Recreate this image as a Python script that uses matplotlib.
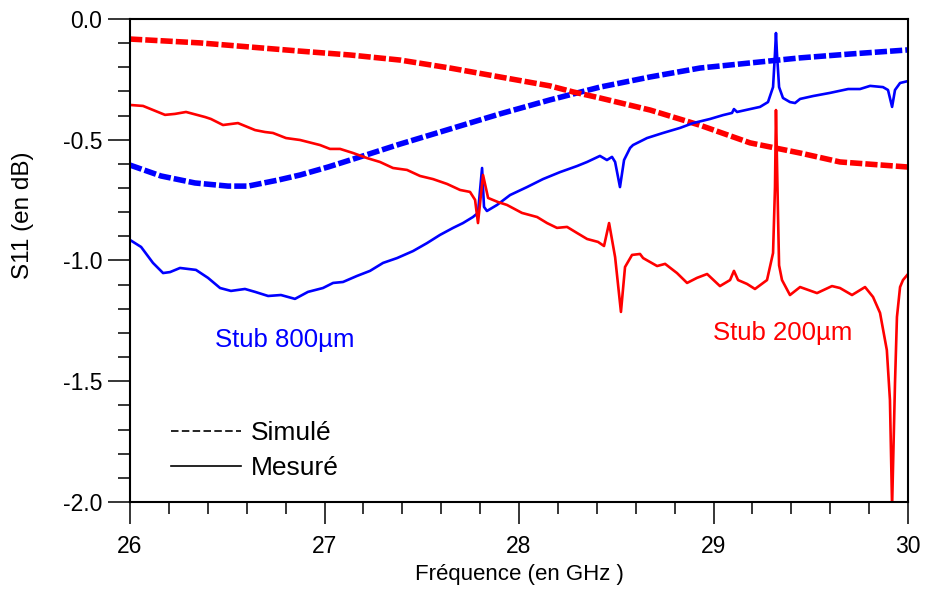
import matplotlib
matplotlib.use("Agg")
import matplotlib.pyplot as plt
from matplotlib.ticker import MultipleLocator, FuncFormatter
from matplotlib.lines import Line2D

plt.rcParams['font.family'] = ['Liberation Sans', 'DejaVu Sans']
plt.rcParams['axes.unicode_minus'] = False

# Stub 800um - simulated (dashed blue)
f_sim800 = [26.000, 26.159, 26.334, 26.504, 26.607, 26.761, 26.874, 27.018, 27.183,
            27.388, 27.594, 27.799, 27.902, 28.159, 28.416, 28.674, 28.931, 29.188,
            29.445, 29.702, 30.000]
s_sim800 = [-0.605, -0.650, -0.679, -0.692, -0.692, -0.667, -0.646, -0.613, -0.571,
            -0.518, -0.468, -0.418, -0.393, -0.335, -0.282, -0.240, -0.203, -0.182,
            -0.161, -0.145, -0.128]

# Stub 200um - simulated (dashed red)
f_sim200 = [26.000, 26.360, 26.617, 26.874, 27.131, 27.388, 27.645, 27.902, 28.159,
            28.278, 28.416, 28.674, 28.931, 29.188, 29.445, 29.650, 30.000]
s_sim200 = [-0.083, -0.099, -0.116, -0.133, -0.149, -0.170, -0.203, -0.240, -0.277,
            -0.302, -0.327, -0.377, -0.440, -0.513, -0.555, -0.592, -0.613]

# Stub 800um - measured (solid blue)
f_mes800 = [26.000, 26.057, 26.118, 26.170, 26.206, 26.257, 26.339, 26.401, 26.463,
            26.519, 26.591, 26.643, 26.710, 26.776, 26.848, 26.915, 26.992, 27.044,
            27.095, 27.167, 27.234, 27.301, 27.373, 27.455, 27.527, 27.594, 27.661,
            27.712, 27.763, 27.789, 27.810, 27.820, 27.835, 27.887, 27.954, 28.041,
            28.123, 28.211, 28.298, 28.350, 28.416, 28.452, 28.478, 28.494, 28.519,
            28.540, 28.571, 28.586, 28.658, 28.740, 28.828, 28.895, 28.982, 29.049,
            29.095, 29.105, 29.121, 29.188, 29.239, 29.280, 29.306, 29.316, 29.321,
            29.326, 29.337, 29.357, 29.393, 29.419, 29.445, 29.512, 29.599, 29.692,
            29.753, 29.805, 29.871, 29.897, 29.918, 29.933, 29.959, 30.000]
s_mes800 = [-0.915, -0.944, -1.010, -1.052, -1.048, -1.031, -1.039, -1.072, -1.114,
            -1.126, -1.118, -1.130, -1.147, -1.143, -1.159, -1.130, -1.114, -1.093,
            -1.089, -1.064, -1.043, -1.010, -0.990, -0.961, -0.928, -0.894, -0.865,
            -0.845, -0.820, -0.803, -0.617, -0.778, -0.795, -0.770, -0.729, -0.696,
            -0.663, -0.634, -0.609, -0.592, -0.567, -0.584, -0.571, -0.592, -0.696,
            -0.584, -0.534, -0.522, -0.493, -0.472, -0.451, -0.431, -0.414, -0.398,
            -0.389, -0.373, -0.385, -0.373, -0.364, -0.344, -0.282, -0.141, -0.058,
            -0.141, -0.282, -0.327, -0.344, -0.348, -0.331, -0.319, -0.306, -0.290,
            -0.290, -0.277, -0.282, -0.294, -0.364, -0.294, -0.265, -0.257]

# Stub 200um - measured (solid red)
f_mes200 = [26.000, 26.067, 26.180, 26.231, 26.288, 26.386, 26.416, 26.478, 26.555,
            26.643, 26.694, 26.735, 26.802, 26.874, 26.977, 27.028, 27.080, 27.147,
            27.219, 27.285, 27.352, 27.424, 27.491, 27.558, 27.630, 27.697, 27.748,
            27.774, 27.789, 27.815, 27.841, 27.892, 27.938, 28.015, 28.093, 28.144,
            28.195, 28.247, 28.298, 28.350, 28.406, 28.437, 28.463, 28.494, 28.524,
            28.545, 28.581, 28.622, 28.638, 28.710, 28.751, 28.812, 28.864, 28.915,
            28.967, 29.033, 29.085, 29.105, 29.126, 29.172, 29.213, 29.275, 29.306,
            29.316, 29.321, 29.332, 29.337, 29.352, 29.393, 29.445, 29.532, 29.609,
            29.650, 29.712, 29.779, 29.820, 29.856, 29.891, 29.907, 29.918, 29.933,
            29.943, 29.959, 29.974, 30.000]
s_mes200 = [-0.356, -0.360, -0.397, -0.393, -0.385, -0.406, -0.414, -0.439, -0.431,
            -0.460, -0.468, -0.472, -0.493, -0.501, -0.522, -0.538, -0.538, -0.555,
            -0.576, -0.592, -0.617, -0.625, -0.650, -0.663, -0.683, -0.708, -0.716,
            -0.749, -0.845, -0.646, -0.741, -0.758, -0.770, -0.803, -0.820, -0.845,
            -0.865, -0.861, -0.886, -0.911, -0.923, -0.940, -0.845, -0.986, -1.213,
            -1.027, -0.977, -0.973, -0.990, -1.023, -1.014, -1.052, -1.093, -1.072,
            -1.056, -1.106, -1.081, -1.043, -1.081, -1.097, -1.118, -1.081, -0.969,
            -0.696, -0.377, -0.830, -1.020, -1.081, -1.143, -1.110, -1.135, -1.106,
            -1.114, -1.143, -1.110, -1.151, -1.217, -1.371, -1.578, -2.020, -1.507,
            -1.234, -1.110, -1.081, -1.056]

labels = ["Simulé", "Mesuré"]

fig = plt.figure(figsize=(9.26, 5.9), dpi=100)
ax = fig.add_axes([0.1404, 0.1492, 0.8402, 0.8186])

dash = (0, (2.2, 0.55))
ax.plot(f_sim800, s_sim800, color='#0000FF', lw=4.0, linestyle=dash)
ax.plot(f_sim200, s_sim200, color='#FF0000', lw=4.0, linestyle=dash)
ax.plot(f_mes800, s_mes800, color='#0000FF', lw=1.9)
ax.plot(f_mes200, s_mes200, color='#FF0000', lw=1.9)

ax.set_xlim(26, 30)
ax.set_ylim(-2.0, 0.0)

ax.xaxis.set_major_locator(MultipleLocator(1))
ax.xaxis.set_minor_locator(MultipleLocator(0.2))
ax.yaxis.set_major_locator(MultipleLocator(0.5))
ax.yaxis.set_minor_locator(MultipleLocator(0.1))
ax.yaxis.set_major_formatter(FuncFormatter(lambda v, p: "%.1f" % (0.0 if abs(v) < 1e-9 else v)))
ax.xaxis.set_major_formatter(FuncFormatter(lambda v, p: "%d" % round(v)))

ax.tick_params(which='major', direction='out', length=16, width=1.1, labelsize=16.5, pad=4)
ax.tick_params(which='minor', direction='out', length=8.5, width=1.1)
ax.tick_params(axis='x', which='major', pad=8)
for sp in ax.spines.values():
    sp.set_linewidth(1.5)

ax.set_xlabel("Fréquence (en GHz )", fontsize=16)
ax.set_ylabel("S11 (en dB)", fontsize=17.5)
ax.xaxis.set_label_coords(0.501, -0.128)
ax.yaxis.set_label_coords(-0.123, 0.594)

ax.text(26.437, -1.329, "Stub 800µm", color='#0000FF', fontsize=18.5, va='center', ha='left')
ax.text(28.997, -1.30, "Stub 200µm", color='#FF0000', fontsize=18.5, va='center', ha='left')

handles = [Line2D([], [], color='black', lw=1.2, linestyle=(0, (4.5, 2))),
           Line2D([], [], color='black', lw=1.2)]
ax.legend(handles, labels, loc='lower left', bbox_to_anchor=(0.0527, 0.045),
          frameon=False, fontsize=19, handlelength=2.65, handletextpad=0.38,
          labelspacing=0.42, borderpad=0, borderaxespad=0)

fig.savefig("out.png", dpi=100)
